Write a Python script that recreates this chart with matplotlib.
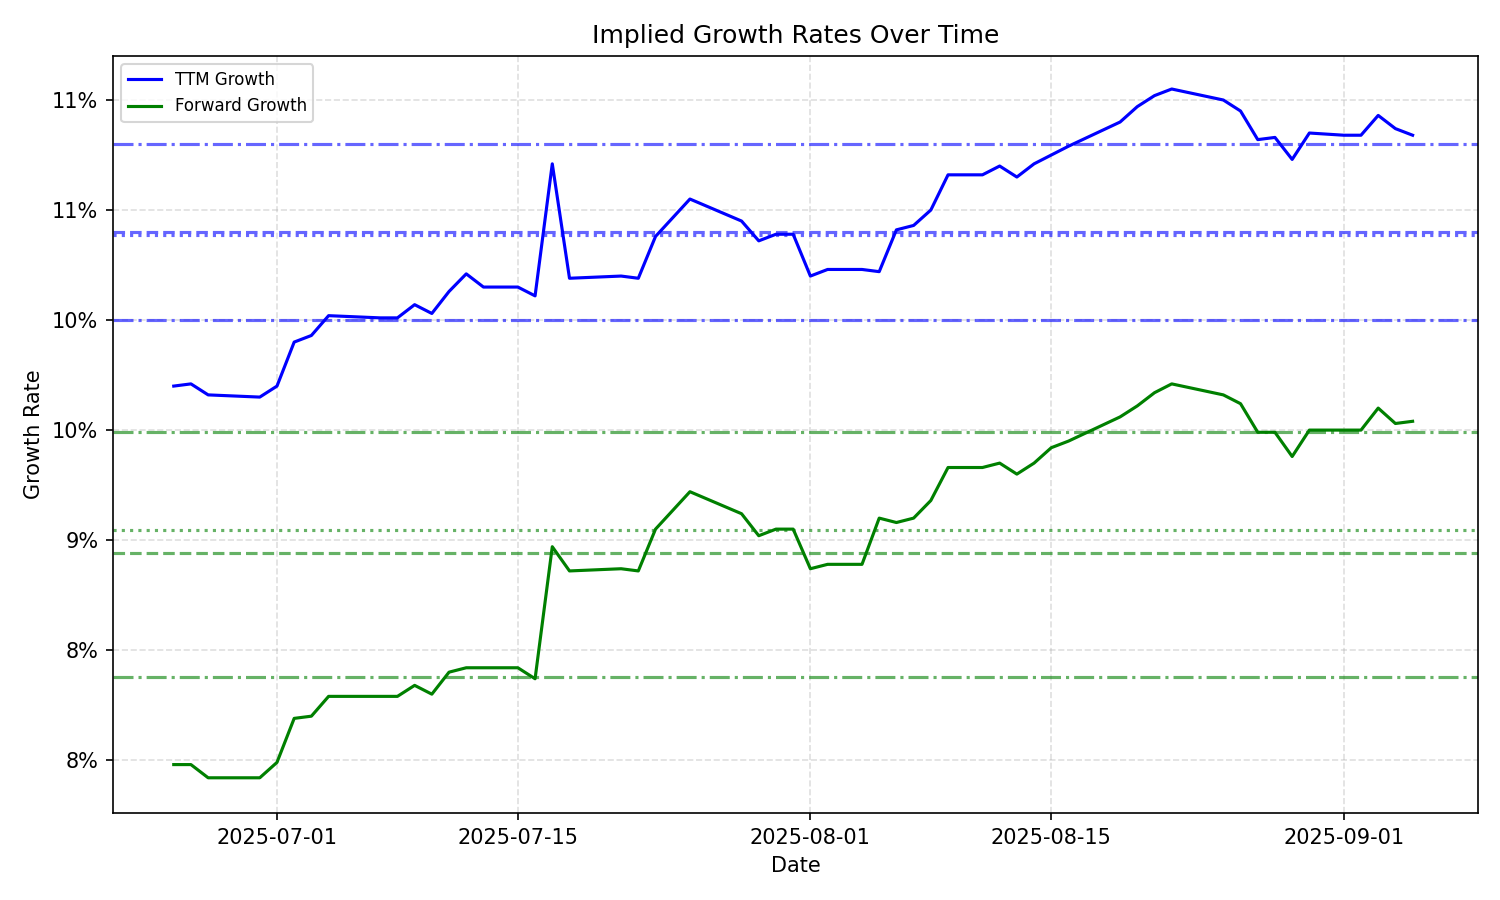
import matplotlib
matplotlib.use('Agg')
from matplotlib import pyplot as plt
import matplotlib.ticker as mtick
import pandas as pd
import numpy as np

dates = ['2025-06-25', '2025-06-26', '2025-06-27', '2025-06-30', '2025-07-01',
         '2025-07-02', '2025-07-03', '2025-07-04', '2025-07-07', '2025-07-08',
         '2025-07-09', '2025-07-10', '2025-07-11', '2025-07-12', '2025-07-13',
         '2025-07-15', '2025-07-16', '2025-07-17', '2025-07-18', '2025-07-21',
         '2025-07-22', '2025-07-23', '2025-07-25', '2025-07-28', '2025-07-29',
         '2025-07-30', '2025-07-31', '2025-08-01', '2025-08-02', '2025-08-04',
         '2025-08-05', '2025-08-06', '2025-08-07', '2025-08-08', '2025-08-09',
         '2025-08-11', '2025-08-12', '2025-08-13', '2025-08-14', '2025-08-15',
         '2025-08-16', '2025-08-19', '2025-08-20', '2025-08-21', '2025-08-22',
         '2025-08-25', '2025-08-26', '2025-08-27', '2025-08-28', '2025-08-29',
         '2025-08-30', '2025-09-01', '2025-09-02', '2025-09-03', '2025-09-04',
         '2025-09-05']

# growth rates in percent
ttm_growth = [9.70, 9.71, 9.66, 9.65, 9.70, 9.90, 9.93, 10.02, 10.01, 10.01,
              10.07, 10.03, 10.13, 10.21, 10.15, 10.15, 10.11, 10.71, 10.19,
              10.20, 10.19, 10.38, 10.55, 10.45, 10.36, 10.39, 10.39, 10.20,
              10.23, 10.23, 10.22, 10.41, 10.43, 10.50, 10.66, 10.66, 10.70,
              10.65, 10.71, 10.75, 10.79, 10.90, 10.97, 11.02, 11.05, 11.00,
              10.95, 10.82, 10.83, 10.73, 10.85, 10.84, 10.84, 10.93, 10.87,
              10.84]
fwd_growth = [7.98, 7.98, 7.92, 7.92, 7.99, 8.19, 8.20, 8.29, 8.29, 8.29,
              8.34, 8.30, 8.40, 8.42, 8.42, 8.42, 8.37, 8.97, 8.86, 8.87,
              8.86, 9.05, 9.22, 9.12, 9.02, 9.05, 9.05, 8.87, 8.89, 8.89,
              9.10, 9.08, 9.10, 9.18, 9.33, 9.33, 9.35, 9.30, 9.35, 9.42,
              9.45, 9.56, 9.61, 9.67, 9.71, 9.66, 9.62, 9.49, 9.49, 9.38,
              9.50, 9.50, 9.50, 9.60, 9.53, 9.54]

# reference levels: mean (dashed), median (dotted), mean +/- std (dash-dot)
ttm_mean, ttm_median, ttm_hi, ttm_lo = 10.40, 10.385, 10.80, 10.00
fwd_mean, fwd_median, fwd_hi, fwd_lo = 8.94, 9.045, 9.49, 8.38

x = pd.to_datetime(dates)
ttm = np.array(ttm_growth) / 100
fwd = np.array(fwd_growth) / 100

fig = plt.figure(figsize=(10, 6), dpi=150)
ax = fig.add_axes([113 / 1500, 1 - 813 / 900, 1365 / 1500, 757 / 900])

ax.plot(x, ttm, color='blue', lw=1.5, label='TTM Growth')
ax.plot(x, fwd, color='green', lw=1.5, label='Forward Growth')

for col, m, md, hi, lo in [('blue', ttm_mean, ttm_median, ttm_hi, ttm_lo),
                           ('green', fwd_mean, fwd_median, fwd_hi, fwd_lo)]:
    ax.axhline(m / 100, color=col, ls='--', alpha=0.6, lw=1.5)
    ax.axhline(md / 100, color=col, ls=':', alpha=0.6, lw=1.5)
    ax.axhline(hi / 100, color=col, ls='-.', alpha=0.6, lw=1.5)
    ax.axhline(lo / 100, color=col, ls='-.', alpha=0.6, lw=1.5)

ax.set_ylim(0.0776, 0.1120)
ax.set_xlim(pd.Timestamp('2025-07-01') - pd.Timedelta(days=9.53),
            pd.Timestamp('2025-07-01') + pd.Timedelta(days=69.8))
ax.set_yticks(np.arange(0.08, 0.1101, 0.005))
ax.yaxis.set_major_formatter(mtick.FuncFormatter(lambda v, p: f'{v:.0%}'))
ax.set_xticks(pd.to_datetime(['2025-07-01', '2025-07-15', '2025-08-01',
                              '2025-08-15', '2025-09-01']))
ax.xaxis.set_major_formatter(matplotlib.dates.DateFormatter('%Y-%m-%d'))
ax.grid(True, ls='--', alpha=0.4)
ax.set_title('Implied Growth Rates Over Time', fontsize=12)
ax.set_xlabel('Date')
ax.set_ylabel('Growth Rate')
ax.legend(loc='upper left', fontsize=8)

plt.savefig('out.png')
